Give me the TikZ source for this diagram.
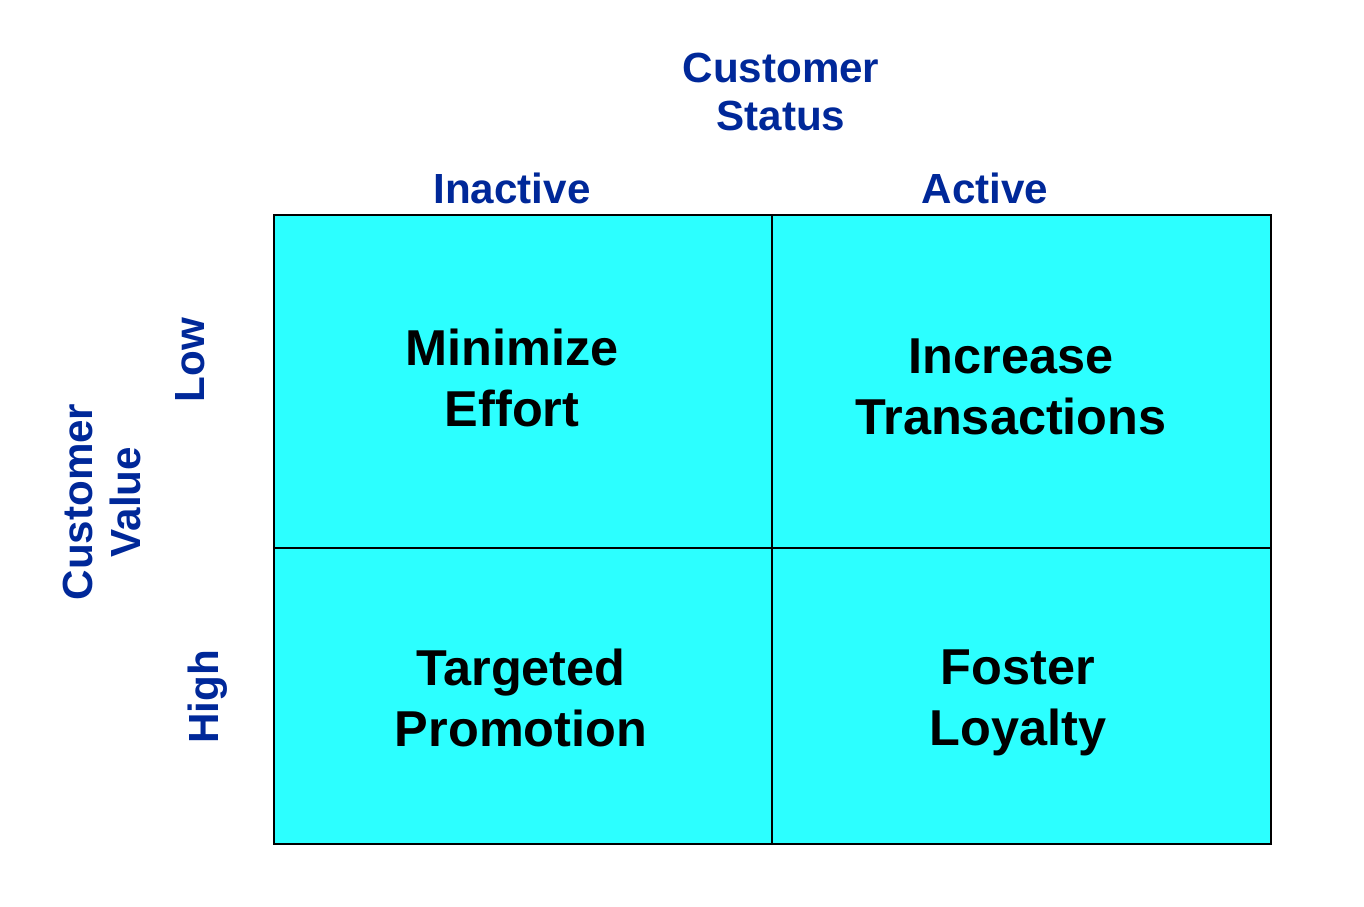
\documentclass[tikz,border=0pt]{standalone}
\usepackage{fontspec}
\setmainfont{Liberation Sans}
\definecolor{cblue}{RGB}{0,40,153}
\definecolor{cellcyan}{RGB}{44,255,255}
\begin{document}
\begin{tikzpicture}[x=0.02cm, y=-0.02cm,
    axislabel/.style={text=cblue, font=\fontsize{24}{27.8}\selectfont\bfseries, align=center},
    cellnote/.style={font=\fontsize{28.7}{34.6}\selectfont\bfseries, align=center}]
    \useasboundingbox (0,0) rectangle (1364,906);

    % the four cells
    \fill[cellcyan] (274,215) rectangle (1271,844);
    \draw[line width=1.2pt] (274,215) rectangle (1271,844);
    \draw[line width=1.2pt] (772,215) -- (772,844);
    \draw[line width=1.2pt] (274,548) -- (1271,548);

    \node[axislabel] (status) at (781,92) {Customer\\Status};
    \node[axislabel] (inactive) at (512,188) {Inactive};
    \node[axislabel] (active) at (985,188) {Active};

    \node[axislabel, rotate=90] (value) at (102,502) {Customer\\Value};
    \node[axislabel, rotate=90] (low) at (190,360) {Low};
    \node[axislabel, rotate=90] (high) at (208,697) {High};

    \node[cellnote] (minimize) at (512,378) {Minimize\\Effort};
    \node[cellnote] (increase) at (1011,387) {Increase\\Transactions};
    \node[cellnote] (targeted) at (521,698) {Targeted\\Promotion};
    \node[cellnote] (foster) at (1018,703) {Foster\\Loyalty};
\end{tikzpicture}
\end{document}
